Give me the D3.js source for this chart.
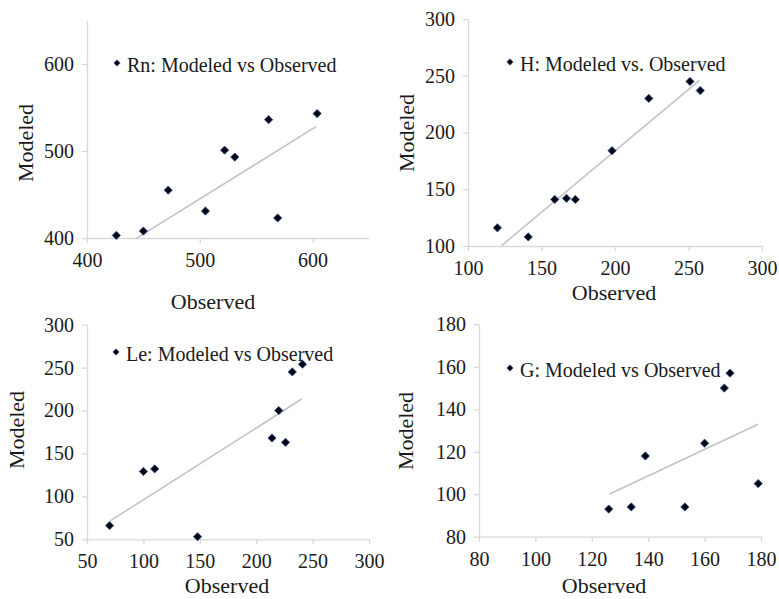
<!DOCTYPE html>
<html>
<head>
<meta charset="utf-8">
<script src="https://cdn.jsdelivr.net/npm/d3@7"></script>
<style>
  body { margin: 0; background: #fff; }
  svg text { font-family: "Liberation Serif", "Times New Roman", Times, "DejaVu Serif", "Noto Serif", serif; fill: #1a1a1a; }
</style>
</head>
<body>
<div id="chart"></div>
<script>
// values
const rnObserved = [426, 450, 472, 505, 522, 531, 561, 569, 604];
const rnModeled  = [403, 408, 455, 431, 501, 493, 536, 423, 543];
const rnTrend    = [[443, 399], [603, 528]];
const rnXDomain  = [400, 650];
const rnYDomain  = [400, 650];
const rnXTicks   = [400, 500, 600];
const rnYTicks   = [400, 500, 600];

const hObserved = [120, 141, 159, 167, 173, 198, 223, 251, 258];
const hModeled  = [116, 108, 141, 142, 141, 184, 230, 245, 237];
const hTrend    = [[122.6, 100], [257.4, 246]];
const hXDomain  = [100, 300];
const hYDomain  = [100, 300];
const hXTicks   = [100, 150, 200, 250, 300];
const hYTicks   = [100, 150, 200, 250, 300];

const leObserved = [70, 100, 110, 148, 214, 220, 226, 232, 241];
const leModeled  = [66, 129, 132, 53, 168, 200, 163, 245, 254];
const leTrend    = [[70.6, 71.4], [240.4, 213.4]];
const leXDomain  = [50, 300];
const leYDomain  = [50, 300];
const leXTicks   = [50, 100, 150, 200, 250, 300];
const leYTicks   = [50, 100, 150, 200, 250, 300];

const gObserved = [126, 134, 139, 153, 160, 167, 169, 179];
const gModeled  = [93, 94, 118, 94, 124, 150, 157, 105];
const gTrend    = [[126.3, 100.1], [179, 132.9]];
const gXDomain  = [80, 180];
const gYDomain  = [80, 180];
const gXTicks   = [80, 100, 120, 140, 160, 180];
const gYTicks   = [80, 100, 120, 140, 160, 180];

const legendLabels = ["Rn: Modeled vs Observed", "H: Modeled vs. Observed",
                      "Le: Modeled vs Observed", "G: Modeled vs Observed"];

// plot boxes and label spots for each panel
const layout = [
  { left: 87,  right: 369, bottom: 238,   top: 20.5,  legend: [117, 63], xTitle: [213, 309], yTitle: [33, 143] },
  { left: 468, right: 762, bottom: 246,   top: 19,    legend: [510, 62], xTitle: [614, 300], yTitle: [414, 133] },
  { left: 87,  right: 369, bottom: 539.3, top: 324.7, legend: [116, 352], xTitle: [227, 593], yTitle: [24, 430] },
  { left: 479, right: 761, bottom: 536.7, top: 324.3, legend: [510, 368], xTitle: [604, 593], yTitle: [413, 431] }
];

const panels = [
  { obs: rnObserved, mod: rnModeled, trend: rnTrend, xd: rnXDomain, yd: rnYDomain, xt: rnXTicks, yt: rnYTicks },
  { obs: hObserved,  mod: hModeled,  trend: hTrend,  xd: hXDomain,  yd: hYDomain,  xt: hXTicks,  yt: hYTicks },
  { obs: leObserved, mod: leModeled, trend: leTrend, xd: leXDomain, yd: leYDomain, xt: leXTicks, yt: leYTicks },
  { obs: gObserved,  mod: gModeled,  trend: gTrend,  xd: gXDomain,  yd: gYDomain,  xt: gXTicks,  yt: gYTicks }
];

const serif = "'Liberation Serif', 'Times New Roman', Times, 'DejaVu Serif', 'Noto Serif', serif";
const width = 779;
const height = 599;

const svg = d3.select("#chart").append("svg")
  .attr("width", width)
  .attr("height", height)
  .attr("font-family", serif);

const diamond = d3.symbol().type(d3.symbolSquare);

panels.forEach((p, i) => {
  const L = layout[i];
  const g = svg.append("g");

  const x = d3.scaleLinear().domain(p.xd).range([L.left, L.right]);
  const y = d3.scaleLinear().domain(p.yd).range([L.bottom, L.top]);

  const xAxis = g.append("g")
    .attr("transform", `translate(0,${L.bottom})`)
    .call(d3.axisBottom(x).tickValues(p.xt).tickSize(5).tickSizeOuter(0).tickPadding(10));
  const yAxis = g.append("g")
    .attr("transform", `translate(${L.left},0)`)
    .call(d3.axisLeft(y).tickValues(p.yt).tickSize(5).tickSizeOuter(0).tickPadding(8));

  [xAxis, yAxis].forEach(a => {
    a.attr("font-family", serif).attr("font-size", 20);
    a.select(".domain").attr("stroke", "#d9d9d9").attr("stroke-width", 1.3);
    a.selectAll(".tick line").attr("stroke", "#d9d9d9").attr("stroke-width", 1.3);
    a.selectAll(".tick text").attr("fill", "#1a1a1a");
  });

  // trend line
  g.append("line")
    .attr("x1", x(p.trend[0][0])).attr("y1", y(p.trend[0][1]))
    .attr("x2", x(p.trend[1][0])).attr("y2", y(p.trend[1][1]))
    .attr("stroke", "#c3c3c3")
    .attr("stroke-width", 1.6);

  // points
  g.selectAll("path.pt")
    .data(p.obs.map((v, j) => [v, p.mod[j]]))
    .enter().append("path")
    .attr("class", "pt")
    .attr("d", diamond.size(34))
    .attr("transform", d => `translate(${x(d[0])},${y(d[1])}) rotate(45)`)
    .attr("fill", "#050514")
    .attr("stroke", "#2d4f8c")
    .attr("stroke-width", 0.8);

  // legend
  const lg = g.append("g").attr("transform", `translate(${L.legend[0]},${L.legend[1]})`);
  lg.append("path")
    .attr("d", diamond.size(20))
    .attr("transform", "rotate(45)")
    .attr("fill", "#050514")
    .attr("stroke", "#2d4f8c")
    .attr("stroke-width", 0.6);
  lg.append("text")
    .attr("x", 10)
    .attr("y", 9)
    .attr("font-size", 20)
    .text(legendLabels[i]);

  // axis titles
  g.append("text")
    .attr("x", L.xTitle[0])
    .attr("y", L.xTitle[1])
    .attr("text-anchor", "middle")
    .attr("font-size", 22)
    .text("Observed");
  g.append("text")
    .attr("transform", `translate(${L.yTitle[0]},${L.yTitle[1]}) rotate(-90)`)
    .attr("text-anchor", "middle")
    .attr("font-size", 22)
    .text("Modeled");
});
</script>
</body>
</html>
